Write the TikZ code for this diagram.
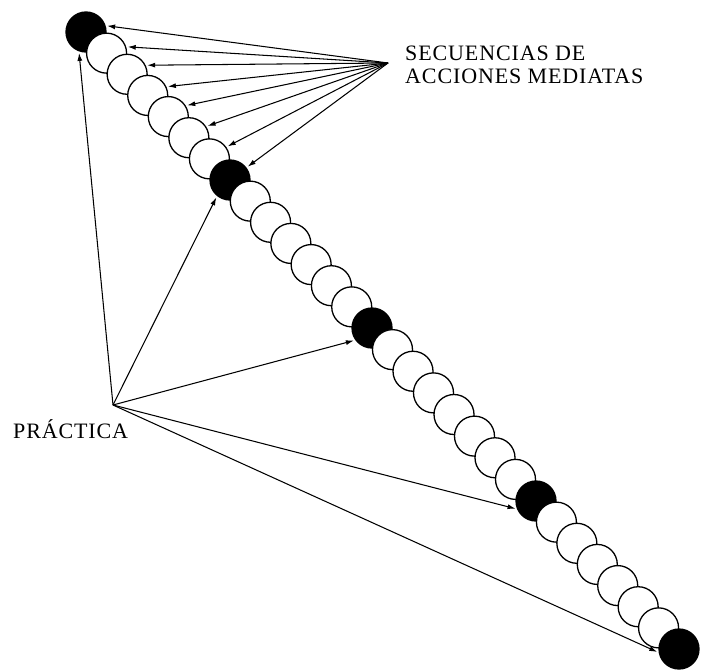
\documentclass[tikz,border=0pt]{standalone}
\usepackage{fontspec}
\setmainfont{Liberation Serif}[LetterSpace=4]
\usetikzlibrary{calc,arrows.meta}
\tikzset{
  bead/.style={circle,draw,line width=1.3pt,minimum size=40pt,inner sep=0pt,fill=white},
  blackbead/.style={bead,fill=black},
  arr/.style={-{Latex[length=8pt,width=5pt]},line width=1.05pt,shorten >=1.5pt},
  lbl/.style={font=\fontsize{22}{23}\selectfont,inner sep=0pt}
}
\begin{document}
\begin{tikzpicture}[x=1pt,y=-1pt]
\useasboundingbox (0,0) rectangle (701,669);
\coordinate (c1) at (86,32);
\coordinate (c2) at (230,180);
\coordinate (c3) at (372,328);
\coordinate (c4) at (536,501);
\coordinate (c5) at (679,649);
\node[blackbead] (b1) at (c1) {};
\foreach \k in {1,...,6} \node[bead] (wa\k) at ($(c1)!\k/7!(c2)$) {};
\node[blackbead] (b2) at (c2) {};
\foreach \k in {1,...,6} \node[bead] (wb\k) at ($(c2)!\k/7!(c3)$) {};
\node[blackbead] (b3) at (c3) {};
\foreach \k in {1,...,7} \node[bead] (wc\k) at ($(c3)!\k/8!(c4)$) {};
\node[blackbead] (b4) at (c4) {};
\foreach \k in {1,...,6} \node[bead] (wd\k) at ($(c4)!\k/7!(c5)$) {};
\node[blackbead] (b5) at (c5) {};
\node[lbl,anchor=base west,align=left] (seq) at (405,83) {SECUENCIAS DE\\ACCIONES MEDIATAS};
\node[lbl,anchor=base west] (prac) at (13,438) {PRÁCTICA};
\coordinate (s) at (388,63);
\coordinate (p) at (113,405);
\draw[arr] (s) -- (b1.18);
\draw[arr] (s) -- (wa1.18);
\draw[arr] (s) -- (wa2.26);
\draw[arr] (s) -- (wa3.25);
\draw[arr] (s) -- (wa4.32);
\draw[arr] (s) -- (wa5.33);
\draw[arr] (s) -- (wa6.35);
\draw[arr] (s) -- (b2.37);
\draw[arr] (p) -- (b1.250);
\draw[arr] (p) -- (b2.231);
\draw[arr] (p) -- (b3.216);
\draw[arr] (p) -- (b4.203);
\draw[arr] (p) -- (b5.190);
\end{tikzpicture}
\end{document}
